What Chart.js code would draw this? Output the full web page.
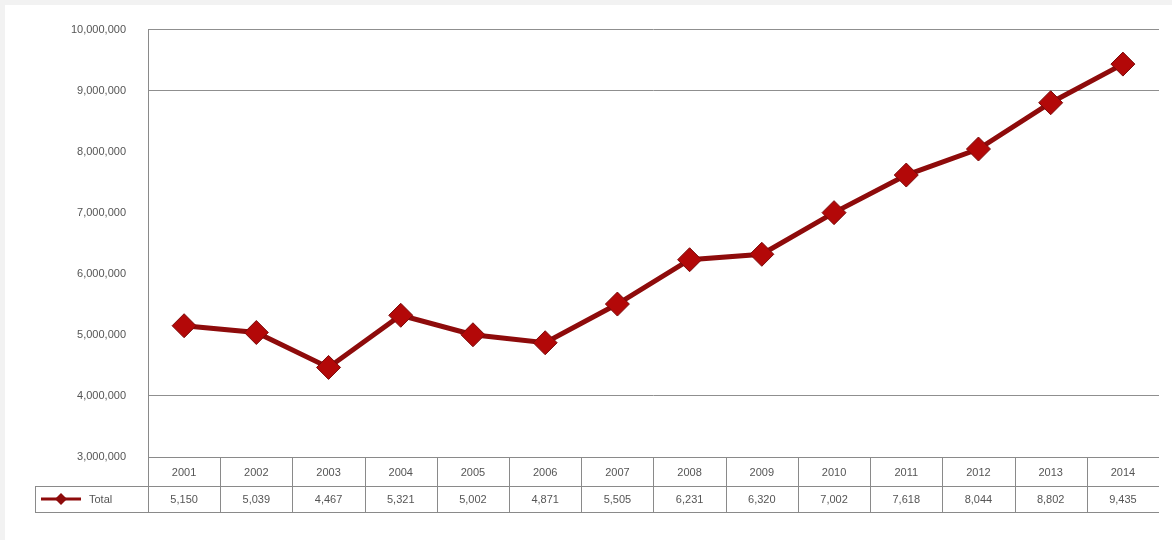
<!DOCTYPE html>
<html>
<head>
<meta charset="utf-8">
<script src="https://cdn.jsdelivr.net/npm/chart.js@4/dist/chart.umd.min.js"></script>
<style>
	html, body { margin: 0; padding: 0; background: #f2f2f2; }
	#wrap { position: absolute; left: 5px; top: 5px; width: 1167px; height: 535px; background: #fff; }
	canvas { display: block; margin-top: -4px; }
</style>
</head>
<body>
<div id="wrap"><canvas id="chart" width="1167" height="539"></canvas></div>
<script>
const years = ['2001', '2002', '2003', '2004', '2005', '2006', '2007', '2008', '2009', '2010', '2011', '2012', '2013', '2014'];
const totals = [5150000, 5039000, 4467000, 5321000, 5002000, 4871000, 5505000, 6231000, 6320000, 7002000, 7618000, 8044000, 8802000, 9435000];
const seriesName = 'Total';
const gridTicks = [10000000, 9000000, 4000000];

const lineColor = '#8e0b0b';
const textColor = '#555555';
const tableLine = '#8a8a8a';

const fmt = (v) => v.toLocaleString('en-US');

// data table under the plot, drawn from the x scale
const dataTable = {
	id: 'dataTable',
	afterDraw(chart) {
		const ctx = chart.ctx;
		const x = chart.scales.x;
		const area = chart.chartArea;
		const step = x.getPixelForValue(1) - x.getPixelForValue(0);
		const left = x.getPixelForValue(0) - step / 2;
		const right = x.getPixelForValue(years.length - 1) + step / 2;
		const top = area.bottom;
		const mid = top + 29;
		const bottom = mid + 26;
		const legendLeft = 30;

		ctx.save();
		ctx.strokeStyle = tableLine;
		ctx.lineWidth = 1;
		ctx.beginPath();
		ctx.moveTo(left, top + 0.5); ctx.lineTo(right, top + 0.5);
		ctx.moveTo(legendLeft, mid + 0.5); ctx.lineTo(right, mid + 0.5);
		ctx.moveTo(legendLeft, bottom + 0.5); ctx.lineTo(right, bottom + 0.5);
		ctx.moveTo(legendLeft + 0.5, mid); ctx.lineTo(legendLeft + 0.5, bottom);
		for (let i = 0; i < years.length; i++) {
			const bx = Math.round(left + step * i) + 0.5;
			ctx.moveTo(bx, i === 0 ? area.top : top); ctx.lineTo(bx, bottom);
		}
		ctx.stroke();

		ctx.font = '11px "Liberation Sans", Arial, sans-serif';
		ctx.fillStyle = textColor;
		ctx.textAlign = 'center';
		ctx.textBaseline = 'middle';
		years.forEach((y, i) => {
			const cx = x.getPixelForValue(i);
			ctx.fillText(y, cx, (top + mid) / 2 + 1);
			ctx.fillText(fmt(Math.round(totals[i] / 1000)), cx, (mid + bottom) / 2 + 1);
		});

		// legend key
		const ky = (mid + bottom) / 2;
		ctx.strokeStyle = lineColor;
		ctx.lineWidth = 3;
		ctx.beginPath();
		ctx.moveTo(legendLeft + 6, ky); ctx.lineTo(legendLeft + 46, ky);
		ctx.stroke();
		ctx.fillStyle = lineColor;
		ctx.beginPath();
		ctx.moveTo(legendLeft + 26, ky - 6); ctx.lineTo(legendLeft + 32, ky);
		ctx.lineTo(legendLeft + 26, ky + 6); ctx.lineTo(legendLeft + 20, ky);
		ctx.closePath();
		ctx.fill();
		ctx.fillStyle = textColor;
		ctx.textAlign = 'left';
		ctx.fillText(seriesName, legendLeft + 54, ky + 1);
		ctx.restore();
	}
};

new Chart(document.getElementById('chart'), {
	type: 'line',
	data: {
		labels: years,
		datasets: [{
			label: seriesName,
			data: totals,
			borderColor: lineColor,
			borderWidth: 5,
			pointStyle: 'rectRot',
			pointRadius: 12,
			pointBackgroundColor: '#b30808',
			pointBorderColor: '#7a0a0a',
			pointBorderWidth: 1,
			tension: 0
		}]
	},
	options: {
		responsive: false,
		animation: false,
		layout: { padding: { top: 14, right: 12, bottom: 83, left: 0 } },
		plugins: {
			legend: { display: false },
			tooltip: { enabled: false }
		},
		scales: {
			x: {
				display: false,
				offset: true
			},
			y: {
				min: 3000000,
				max: 10000000,
				afterFit: (scale) => { scale.width = 143; },
				border: { display: false },
				grid: {
					drawTicks: false,
					color: (c) => gridTicks.includes(c.tick && c.tick.value) ? '#8f8f8f' : 'rgba(0,0,0,0)'
				},
				ticks: {
					stepSize: 1000000,
					padding: 22,
					color: textColor,
					font: { family: '"Liberation Sans", Arial, sans-serif', size: 11 },
					callback: (v) => fmt(v)
				}
			}
		}
	},
	plugins: [dataTable]
});
</script>
</body>
</html>
